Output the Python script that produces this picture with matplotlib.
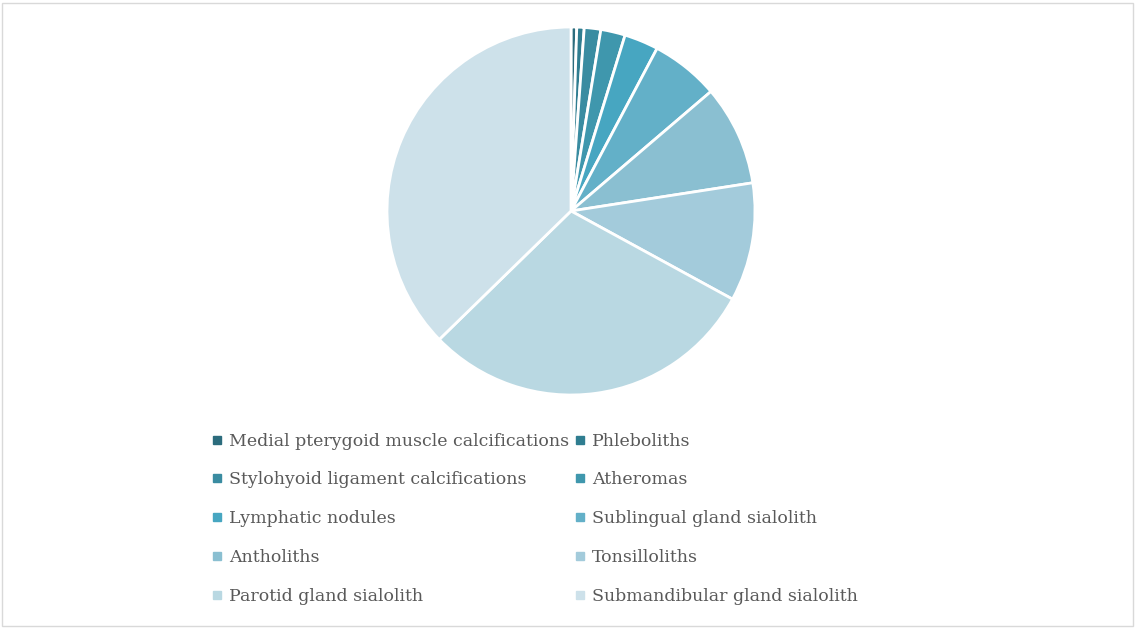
import matplotlib.pyplot as plt
from matplotlib.patches import Rectangle
from matplotlib.lines import Line2D

labels = ["Medial pterygoid muscle calcifications", "Phleboliths",
          "Stylohyoid ligament calcifications", "Atheromas",
          "Lymphatic nodules", "Sublingual gland sialolith",
          "Antholiths", "Tonsilloliths",
          "Parotid gland sialolith", "Submandibular gland sialolith"]
values = [0.5, 0.65, 1.45, 2.15, 3.0, 6.0, 8.8, 10.4, 29.75, 37.3]
colors = ["#2c6c7d", "#2f7d90", "#3a8ca1", "#3f97ad", "#47a6c1",
          "#63b0c8", "#8abfd1", "#a3cbdb", "#b9d8e2", "#cde1ea"]

W, H = 1135, 629
fig = plt.figure(figsize=(W / 100, H / 100), dpi=100)
fig.patches.append(Rectangle((2 / W, 3 / H), 1 - 4 / W, 1 - 6 / H, transform=fig.transFigure,
                             fill=False, edgecolor="#d9d9d9", linewidth=1))

cx, cy, r = 571, 211, 184
ax = fig.add_axes([(cx - r) / W, (H - cy - r) / H, 2 * r / W, 2 * r / H])
ax.pie(values, colors=colors, startangle=90, counterclock=False, radius=1,
       wedgeprops=dict(edgecolor="white", linewidth=2))
ax.set_xlim(-1, 1)
ax.set_ylim(-1, 1)
ax.set_aspect("equal")
ax.axis("off")

# legend is filled row by row, matplotlib fills by column
handles = [Line2D([], [], marker="s", linestyle="", markersize=6, color=c) for c in colors]
order = [0, 2, 4, 6, 8, 1, 3, 5, 7, 9]
leg = fig.legend([handles[i] for i in order], [labels[i] for i in order], ncol=2,
                 loc="upper left", bbox_to_anchor=(196 / W, 1 - 417 / H), frameon=False,
                 prop=dict(family="DejaVu Serif", size=12.5), labelcolor="#595959",
                 handlelength=0.6, handletextpad=0.4, columnspacing=0.3, labelspacing=1.26)

fig.savefig("out.png", dpi=100)
